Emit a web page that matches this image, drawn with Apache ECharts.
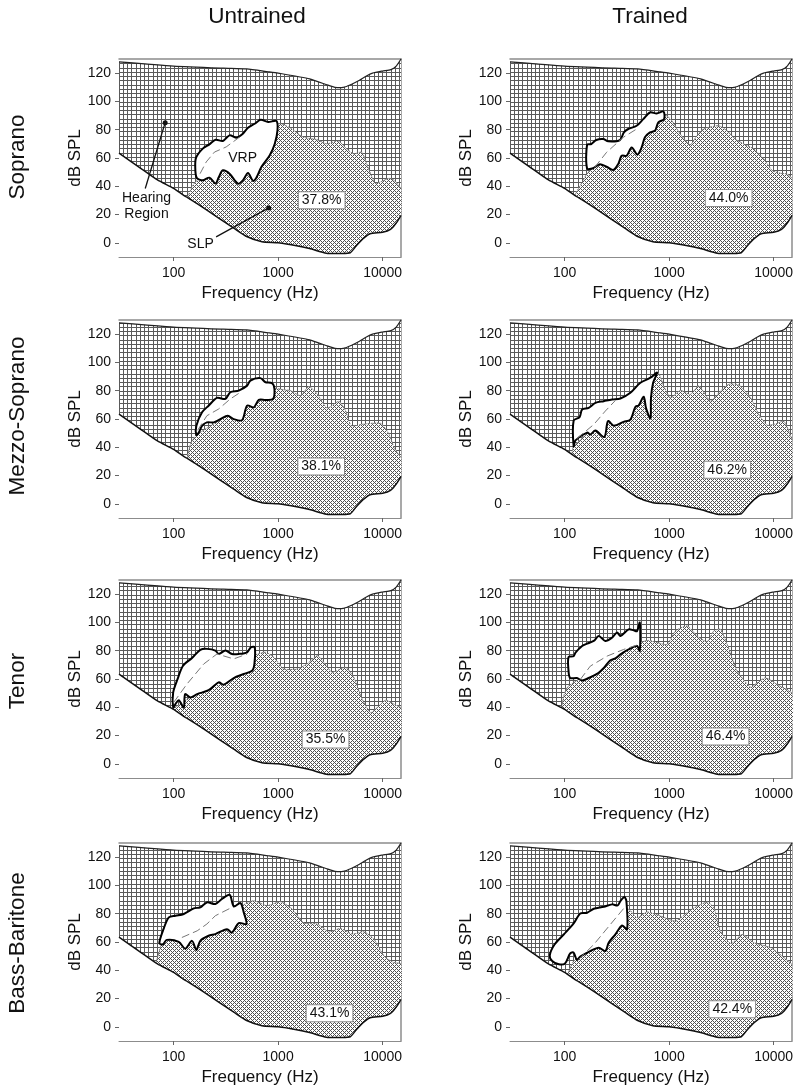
<!DOCTYPE html>
<html>
<head>
<meta charset="utf-8">
<title>Hearing region, SLP and VRP</title>
<style>
  html, body { margin: 0; padding: 0; background: #fff; }
  #main { width: 800px; height: 1090px; }
</style>
<script src="https://cdn.jsdelivr.net/npm/echarts@6/dist/echarts.min.js"></script>
</head>
<body>
<div id="main"></div>
<script>
  // all curves are [frequency in Hz, dB SPL]
  const freqTicks = [100, 1000, 10000];
  const splTicks = [0, 20, 40, 60, 80, 100, 120];
  const columnTitles = ['Untrained', 'Trained'];
  const rowTitles = ['Soprano', 'Mezzo-Soprano', 'Tenor', 'Bass-Baritone'];

  const hearingUpper = [[30,128],[100,125],[300,123.5],[500,123],[800,121],[1000,120],[2000,116],[3000,111.5],[3500,110],[4200,110],[5000,112],[6000,115],[7000,118],[8000,120],[10000,121.5],[12000,122.5],[13500,125],[15000,130]];
  const hearingLower = [[30,63.5],[50,52],[70,44.5],[100,38.5],[125,33.5],[136,32],[200,24],[383,10],[500,4.5],[700,0.8],[1000,0],[1500,-2],[2000,-4],[2900,-7.3],[4000,-7.5],[4900,-7],[5600,-2],[6500,3],[7600,6.5],[10000,7.5],[11900,9.5],[13500,14],[15000,19.5]];

  const sopranoUntrainedSlp = [[136,32],[152,40.5],[170,44.5],[1000,84.2],[1294,81.4],[1738,74.8],[2340,73],[2917,70],[3776,72],[4540,66.4],[5260,63],[6324,64],[7330,52.5],[8490,42.3],[9860,43.5],[11430,45.6],[12760,44.5],[15000,38.6]];
  const sopranoUntrainedVrp = [[164,60.2],[190,66.6],[220,69.6],[252,72.9],[296,72],[343,76],[397,74.4],[460,77.2],[515,81.4],[597,84.2],[681,87],[802,85.4],[964,86.1],[986,79.5],[929,70.1],[832,61.9],[692,53.6],[619,46.1],[575,43.8],[515,49.4],[460,44.2],[412,41.9],[343,48.9],[296,51.3],[271,46.6],[252,41.9],[220,46.1],[190,44.2],[166,46.1],[161,53.6]];
  const sopranoUntrainedMid = [[179,48.9],[205,57.2],[246,64.2],[318,67.8],[428,74.8]];

  const sopranoTrainedSlp = [[125,33.5],[150,44],[168,50],[916,90],[1062,86.4],[1276,77],[1592,69.4],[1845,75.8],[2138,80.5],[2979,82.8],[3581,79.3],[4315,73.4],[5188,69.9],[6471,66.4],[8072,59.3],[9705,51.1],[11670,49.2],[13520,48.7],[15000,45.5]];
  const sopranoTrainedVrp = [[164,69.4],[180,69.9],[201,72.7],[234,73.4],[261,71.8],[338,72.7],[369,78.1],[406,80.5],[489,82.8],[566,87.5],[656,92.2],[760,91.5],[883,92.9],[895,87.5],[789,85.2],[733,79.3],[656,78.1],[587,74.6],[546,67.5],[496,62.4],[438,67.5],[392,61.6],[351,61.6],[326,55.8],[292,51.5],[252,53.8],[217,55.6],[187,52.8],[164,52.6]];
  const sopranoTrainedMid = [[194,53.4],[252,64],[364,74.6],[489,80.5]];

  const mezzoUntrainedSlp = [[136,32],[145,42.2],[165,48.8],[922,81.3],[1132,80.6],[1312,80.1],[1637,76.5],[1968,82.9],[2366,77.7],[2951,67.7],[3811,72.5],[4416,65.9],[5012,55.3],[6622,56.4],[9572,56.9],[11500,49.3],[12850,39.8],[15000,32.7]];
  const mezzoUntrainedVrp = [[165,48.8],[165,55.2],[187,64.7],[216,69.4],[260,74.9],[313,74.2],[349,78.9],[420,80.1],[505,83.6],[543,87.2],[677,88.9],[757,86],[875,85.3],[922,81.3],[895,74.2],[757,73.5],[653,73.5],[585,68.2],[505,69.5],[452,59.2],[376,59.9],[330,62.3],[280,59.9],[242,57.6],[208,57.6],[187,55.2],[174,50.4]];
  const mezzoUntrainedMid = [[170,52.1],[208,62.3],[270,67.1],[349,74.2],[436,78.9]];

  const mezzoTrainedSlp = [[117,35],[122,40.7],[767,92.8],[889,83.3],[1030,75],[1285,80.2],[1600,77.4],[1923,83.3],[2489,72.7],[3105,79.8],[3733,84.5],[4656,84],[6026,75],[7228,63.2],[8690,55.6],[10450,56.5],[12560,58.4],[15000,45.4]];
  const mezzoTrainedVrp = [[122,40.7],[122,58.9],[139,61.3],[147,66.7],[170,67.9],[197,71.4],[237,72.6],[284,73.8],[342,74.5],[426,78.5],[531,85.6],[662,89.2],[767,92.8],[703,85.6],[671,75],[662,60.4],[602,67.5],[571,75.7],[512,69.7],[475,68.5],[426,59.6],[367,58],[295,55.3],[260,58.5],[240,47.3],[197,51.8],[176,49],[164,50.4],[127,44.9]];
  const mezzoTrainedMid = [[131,46.2],[190,56.1],[245,65.6],[306,73.1]];

  const tenorUntrainedSlp = [[98,38.8],[585,76.5],[757,78.9],[908,75.4],[1132,67.1],[1521,67.1],[1897,70.7],[2366,76.5],[2742,71.8],[3296,64.7],[4416,68.2],[5309,61.1],[6383,45.7],[7674,36.3],[8892,39.8],[10690,45],[12850,42.2],[15000,39.8]];
  const tenorUntrainedVrp = [[99,39.8],[99,50.5],[109,59.9],[123,69.4],[150,74.9],[180,80.6],[208,81.3],[251,80.1],[270,77.7],[313,80.1],[362,77.7],[420,77.7],[505,78.9],[551,82.5],[597,82.5],[593,70.7],[564,65.9],[469,63.5],[376,60.7],[301,56],[270,57.6],[216,52.1],[168,49.3],[145,47],[129,49.3],[125,39.8],[112,45],[104,42.2]];
  const tenorUntrainedMid = [[100,43.4],[134,56.4],[194,70.6],[260,77.7],[376,74.2],[505,77.7]];

  const tenorTrainedSlp = [[94,39.8],[98,47.9],[109,55],[524,85.7],[638,87.3],[767,85.7],[957,84.5],[1151,94],[1489,97.5],[1854,90.4],[2312,86.4],[2679,94],[3105,95.1],[3597,84.5],[4487,65.6],[6026,54.2],[6966,57.3],[8375,60.8],[10840,56.1],[15000,50.2]];
  const tenorTrainedVrp = [[109,75.5],[122,76.2],[127,78.6],[147,83.3],[164,85],[190,86.9],[212,90.4],[245,86.9],[284,89.2],[318,92.8],[342,90.4],[410,95.1],[458,94.4],[493,93.9],[524,99.9],[524,79.8],[493,83.3],[410,80.9],[342,77.4],[306,74.6],[274,73.2],[237,67.9],[204,63.6],[170,60.7],[147,58.9],[131,60.7],[113,60.7],[109,65.6]];
  const tenorTrainedMid = [[141,59.6],[176,69.1],[255,76.2],[367,80.9],[493,84]];

  const bassUntrainedSlp = [[68,45.4],[73,53.7],[79,60.8],[486,86.9],[585,89.2],[785,85.7],[1052,88.5],[1361,83.3],[1762,73.4],[2366,72.7],[3062,67.2],[3954,69.6],[5117,65.6],[6622,67.2],[8260,62],[10300,50.2],[12390,45.9],[15000,44.7]];
  const bassUntrainedVrp = [[73,59.2],[80,69.1],[90,77.4],[104,78.6],[125,79.8],[156,83.8],[180,84.5],[208,88],[251,86.9],[290,90.4],[344,93.3],[376,85.2],[436,87.5],[469,80.9],[497,72.7],[420,73.4],[362,66.7],[324,69.1],[251,65.6],[216,64.4],[180,60.8],[165,54.4],[150,60.8],[129,55.3],[112,60.1],[86,61.5],[79,58.4]];
  const bassUntrainedMid = [[120,63.2],[168,67.9],[208,72.7],[251,78.6],[362,84.5]];

  const bassTrainedSlp = [[107,37],[122,46.4],[402,83.1],[493,77.2],[615,81.2],[826,78.4],[1151,74.8],[1600,82.6],[2312,88.3],[2679,84.3],[3105,67.7],[3926,58.9],[5012,65.4],[6486,59.5],[9354,56],[12100,50],[15000,44]];
  const bassTrainedVrp = [[72,50.4],[80,58.2],[98,65.3],[122,73.1],[141,80.2],[164,80.7],[190,83.5],[237,84.9],[284,86.6],[322,85.9],[342,88.9],[373,91.8],[390,88.9],[396,68.9],[355,71.7],[306,65.4],[264,59.5],[245,53.6],[212,56],[176,53.6],[141,49.7],[131,47.3],[122,52.5],[113,52],[101,44.9],[88,44.2],[76,46.6]];
  const bassTrainedMid = [[136,47.6],[190,58.2],[274,72.4],[373,84.3]];

  // share of the hearing region, with where the box sits
  const percentLabels = ['37.8%', '44.0%', '38.1%', '46.2%', '35.5%', '46.4%', '43.1%', '42.4%'];
  const percentPositions = [[2612,30.1],[3715,31.8],[2582,26.5],[3597,24.1],[2844,17.3],[3467,19.4],[3105,9.7],[4018,12.5]];

  // annotations of the first panel only
  const hearingArrow = [[83,85],[53.5,38.4]];
  const slpArrow = [[813,24.7],[255,4.2]];
  const notes = [
    {text: 'Hearing\nRegion', value: [55,26]},
    {text: 'VRP', value: [457,60]},
    {text: 'SLP', value: [181,-1]}
  ];

  const panels = [
    {slp: sopranoUntrainedSlp, vrp: sopranoUntrainedVrp, mid: sopranoUntrainedMid},
    {slp: sopranoTrainedSlp, vrp: sopranoTrainedVrp, mid: sopranoTrainedMid},
    {slp: mezzoUntrainedSlp, vrp: mezzoUntrainedVrp, mid: mezzoUntrainedMid},
    {slp: mezzoTrainedSlp, vrp: mezzoTrainedVrp, mid: mezzoTrainedMid},
    {slp: tenorUntrainedSlp, vrp: tenorUntrainedVrp, mid: tenorUntrainedMid},
    {slp: tenorTrainedSlp, vrp: tenorTrainedVrp, mid: tenorTrainedMid},
    {slp: bassUntrainedSlp, vrp: bassUntrainedVrp, mid: bassUntrainedMid},
    {slp: bassTrainedSlp, vrp: bassTrainedVrp, mid: bassTrainedMid}
  ];

  const colLeft = [119, 510];
  const rowTop = [59, 320, 580, 843];
  const plotWidth = 282;
  const plotHeight = 198;
  const textColor = '#111';
  const frameColor = '#8c8c8c';
  const fontFamily = '"Liberation Sans", Arial, sans-serif';

  // hatch fills, drawn once on small canvases
  function makePattern(size, isInk, ink) {
    const c = document.createElement('canvas');
    c.width = size;
    c.height = size;
    const ctx = c.getContext('2d');
    ctx.fillStyle = '#fff';
    ctx.fillRect(0, 0, size, size);
    ctx.fillStyle = ink;
    for (let i = 0; i < size; i++) {
      for (let j = 0; j < size; j++) {
        if (isInk(i, j)) ctx.fillRect(i, j, 1, 1);
      }
    }
    return {image: c, repeat: 'repeat'};
  }
  const gridLines = [0, 4, 8, 12];
  const gridHatch = makePattern(17, (i, j) => gridLines.includes(i) || gridLines.includes(j), '#5a5a5a');
  const crossHatch = makePattern(4, (i, j) => (i + j) % 4 === 0 || (i - j + 4) % 4 === 0, '#505050');

  function shapeSeries(panel, points, closed, style, name, smooth) {
    return {
      type: 'custom',
      name: name,
      xAxisIndex: panel,
      yAxisIndex: panel,
      data: points,
      silent: true,
      renderItem(params, api) {
        if (params.dataIndex !== 0) return null;
        return {
          type: closed ? 'polygon' : 'polyline',
          shape: {points: points.map(p => api.coord(p)), smooth: smooth || 0},
          style: style
        };
      }
    };
  }

  const grid = [], xAxis = [], yAxis = [], series = [];

  panels.forEach((p, i) => {
    const left = colLeft[i % 2];
    const top = rowTop[Math.floor(i / 2)];
    grid.push({left: left, top: top, width: plotWidth, height: plotHeight});
    xAxis.push({
      type: 'log', gridIndex: i, min: 30, max: 15000,
      name: 'Frequency (Hz)', nameLocation: 'middle', nameGap: 28,
      nameTextStyle: {fontSize: 17, color: textColor, fontFamily: fontFamily},
      axisLine: {show: true, onZero: false, lineStyle: {color: frameColor, width: 1}},
      axisTick: {show: true, length: 4, customValues: freqTicks, lineStyle: {color: '#666'}},
      axisLabel: {customValues: freqTicks, formatter: v => String(v), fontSize: 14, color: textColor, margin: 9, fontFamily: fontFamily},
      minorTick: {show: false},
      splitLine: {show: false}
    });
    yAxis.push({
      type: 'value', gridIndex: i, min: -10, max: 130,
      name: 'dB SPL', nameLocation: 'middle', nameGap: 35, nameRotate: 90,
      nameTextStyle: {fontSize: 17, color: textColor, fontFamily: fontFamily},
      axisLine: {show: false},
      axisTick: {show: true, length: 4, customValues: splTicks, lineStyle: {color: '#666'}},
      axisLabel: {customValues: splTicks, fontSize: 14, color: textColor, margin: 8, fontFamily: fontFamily},
      splitLine: {show: false}
    });

    const slpLower = hearingLower.filter(pt => pt[0] > p.slp[0][0]).reverse();
    const hearing = hearingUpper.concat(hearingLower.slice().reverse());
    series.push(shapeSeries(i, hearing, true, {fill: gridHatch}, 'Hearing region'));
    series.push(shapeSeries(i, p.slp.concat(slpLower), true, {fill: crossHatch}, 'SLP', 0.2));
    series.push(shapeSeries(i, p.slp, false, {fill: 'none', stroke: '#777', lineWidth: 1, lineDash: [2, 1]}, 'SLP edge', 0.2));
    series.push(shapeSeries(i, hearingUpper, false, {fill: 'none', stroke: '#222', lineWidth: 1.2}, 'Upper limit', 0.2));
    series.push(shapeSeries(i, hearingLower, false, {fill: 'none', stroke: '#111', lineWidth: 1.5}, 'Threshold', 0.2));
    series.push(shapeSeries(i, p.vrp, true, {fill: '#fff', stroke: '#000', lineWidth: 2, lineJoin: 'round'}, 'VRP', 0.3));
    series.push(shapeSeries(i, p.mid, false, {fill: 'none', stroke: '#777', lineWidth: 1, lineDash: [8, 4]}, 'VRP mean'));
    series.push({
      type: 'scatter', xAxisIndex: i, yAxisIndex: i, symbolSize: 0, silent: true,
      itemStyle: {opacity: 1},
      data: [percentPositions[i]],
      label: {
        show: true, position: 'inside', formatter: percentLabels[i],
        fontSize: 14, color: textColor, fontFamily: fontFamily,
        backgroundColor: '#fff', borderColor: '#8a8a8a', borderWidth: 1, padding: [1, 3]
      }
    });
  });

  // the outer frame lines on top and right
  panels.forEach((p, i) => {
    xAxis.push({
      type: 'value', gridIndex: i, position: 'top', min: 0, max: 1,
      axisLine: {show: true, onZero: false, lineStyle: {color: frameColor, width: 1.5}},
      axisTick: {show: false}, axisLabel: {show: false}, splitLine: {show: false}
    });
    yAxis.push({
      type: 'value', gridIndex: i, position: 'right', min: 0, max: 1,
      axisLine: {show: true, onZero: false, lineStyle: {color: frameColor, width: 1.5}},
      axisTick: {show: false}, axisLabel: {show: false}, splitLine: {show: false}
    });
  });

  [hearingArrow, slpArrow].forEach(arrow => {
    series.push({
      type: 'line', xAxisIndex: 0, yAxisIndex: 0, data: arrow, silent: true,
      lineStyle: {color: '#111', width: 1.3},
      itemStyle: {color: '#111'},
      symbol: 'circle', showSymbol: true,
      symbolSize: (v, params) => params.dataIndex === 0 ? 5 : 0,
      z: 5
    });
  });
  series.push({
    type: 'scatter', xAxisIndex: 0, yAxisIndex: 0, symbolSize: 0, silent: true, z: 6,
    itemStyle: {opacity: 1},
    data: notes.map(n => ({value: n.value, text: n.text})),
    label: {
      show: true, position: 'inside', formatter: params => params.data.text,
      fontSize: 14, lineHeight: 16, color: textColor, fontFamily: fontFamily
    }
  });

  const titleStyle = {fontSize: 22.5, fill: textColor, fontFamily: fontFamily, textAlign: 'center', textVerticalAlign: 'middle'};
  const graphic = [
    {type: 'text', x: 257, y: 17, style: Object.assign({text: columnTitles[0]}, titleStyle)},
    {type: 'text', x: 650, y: 17, style: Object.assign({text: columnTitles[1]}, titleStyle)}
  ];
  const rowTitleY = [157, 416, 681, 943];
  rowTitles.forEach((t, r) => {
    graphic.push({type: 'text', x: 18, y: rowTitleY[r], rotation: Math.PI / 2, style: Object.assign({text: t}, titleStyle)});
  });

  const myChart = echarts.init(document.getElementById('main'), null, {renderer: 'canvas'});
  myChart.setOption({
    animation: false,
    backgroundColor: '#fff',
    grid: grid,
    xAxis: xAxis,
    yAxis: yAxis,
    series: series,
    graphic: graphic
  });
</script>
</body>
</html>
